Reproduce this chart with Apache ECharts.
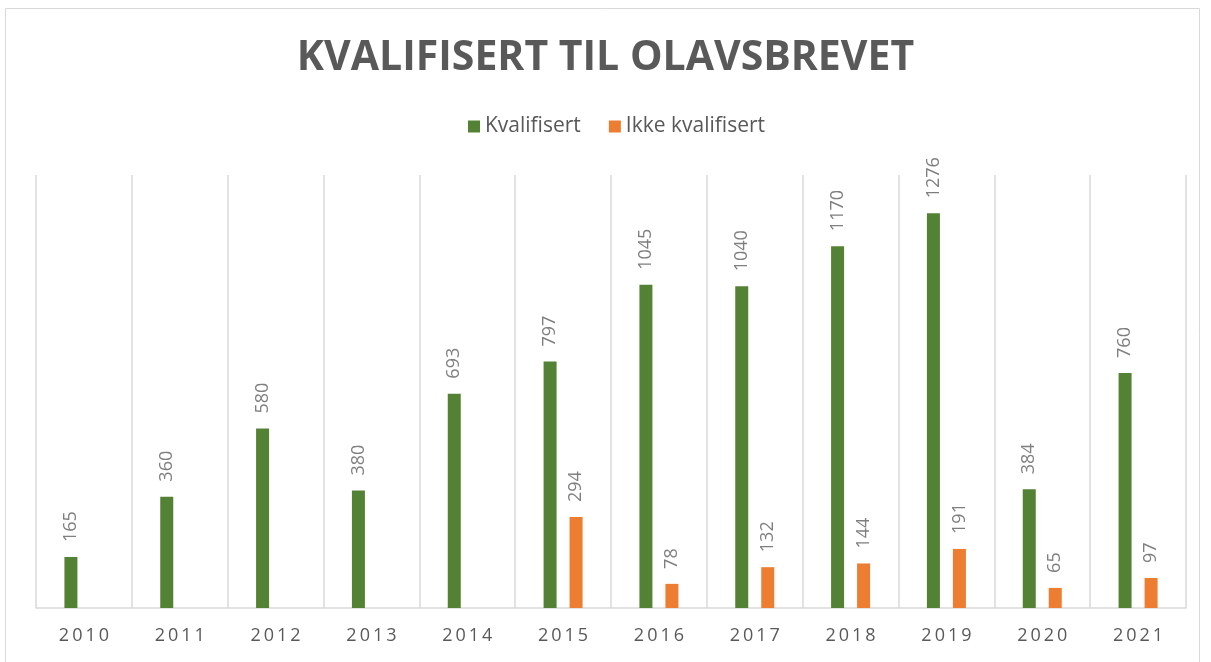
<!DOCTYPE html>
<html>
<head>
<meta charset="utf-8">
<script src="https://cdn.jsdelivr.net/npm/echarts@6/dist/echarts.min.js"></script>
<style>
  html, body { margin: 0; padding: 0; background: #fff; }
  #chart { width: 1211px; height: 662px; }
</style>
</head>
<body>
<div id="chart"></div>
<script>
// data
const years = ['2010', '2011', '2012', '2013', '2014', '2015', '2016', '2017', '2018', '2019', '2020', '2021']
const kvalifisert = [165, 360, 580, 380, 693, 797, 1045, 1040, 1170, 1276, 384, 760]
const ikkeKvalifisert = [null, null, null, null, null, 294, 78, 132, 144, 191, 65, 97]

const textColor = '#595959'
const labelColor = '#7f7f7f'
const gridColor = '#d9d9d9'
const font = '"Open Sans", "Noto Sans", sans-serif'

const chart = echarts.init(document.getElementById('chart'))

const barLabel = {
  show: true,
  position: 'top',
  rotate: 90,
  align: 'left',
  verticalAlign: 'middle',
  distance: 15,
  color: labelColor,
  fontSize: 18,
  fontFamily: font
}

chart.setOption({
  animation: false,
  backgroundColor: '#fff',
  graphic: [{
    type: 'rect',
    shape: { x: 5.5, y: 8.5, width: 1194, height: 660 },
    style: { fill: 'none', stroke: gridColor, lineWidth: 1 },
    silent: true
  }],
  title: {
    text: 'KVALIFISERT TIL OLAVSBREVET',
    left: 'center',
    top: 33,
    textStyle: {
      color: textColor,
      fontSize: 41,
      fontWeight: 'bold',
      fontFamily: font
    }
  },
  legend: {
    top: 111,
    left: 463,
    itemWidth: 12,
    itemHeight: 12,
    itemGap: 28,
    icon: 'rect',
    textStyle: { color: textColor, fontSize: 21, fontFamily: font }
  },
  grid: { left: 36, right: 25, top: 175, bottom: 54 },
  xAxis: {
    type: 'category',
    data: years,
    axisLine: { lineStyle: { color: gridColor, width: 1.5 } },
    axisTick: { show: false },
    axisLabel: {
      color: textColor,
      fontSize: 18,
      fontFamily: font,
      margin: 19,
      formatter: v => v.split('').join('\u2009')
    },
    splitLine: { show: true, interval: 0, lineStyle: { color: gridColor, width: 1.5 } }
  },
  yAxis: {
    type: 'value',
    min: 0,
    max: 1400,
    show: false,
    splitLine: { show: false }
  },
  series: [
    {
      name: 'Kvalifisert',
      type: 'bar',
      data: kvalifisert,
      barWidth: 13,
      barGap: '100%',
      itemStyle: { color: '#548235' },
      label: barLabel
    },
    {
      name: 'Ikke kvalifisert',
      type: 'bar',
      data: ikkeKvalifisert,
      barWidth: 13,
      barGap: '100%',
      itemStyle: { color: '#ed7d31' },
      label: barLabel
    }
  ]
})
</script>
</body>
</html>
